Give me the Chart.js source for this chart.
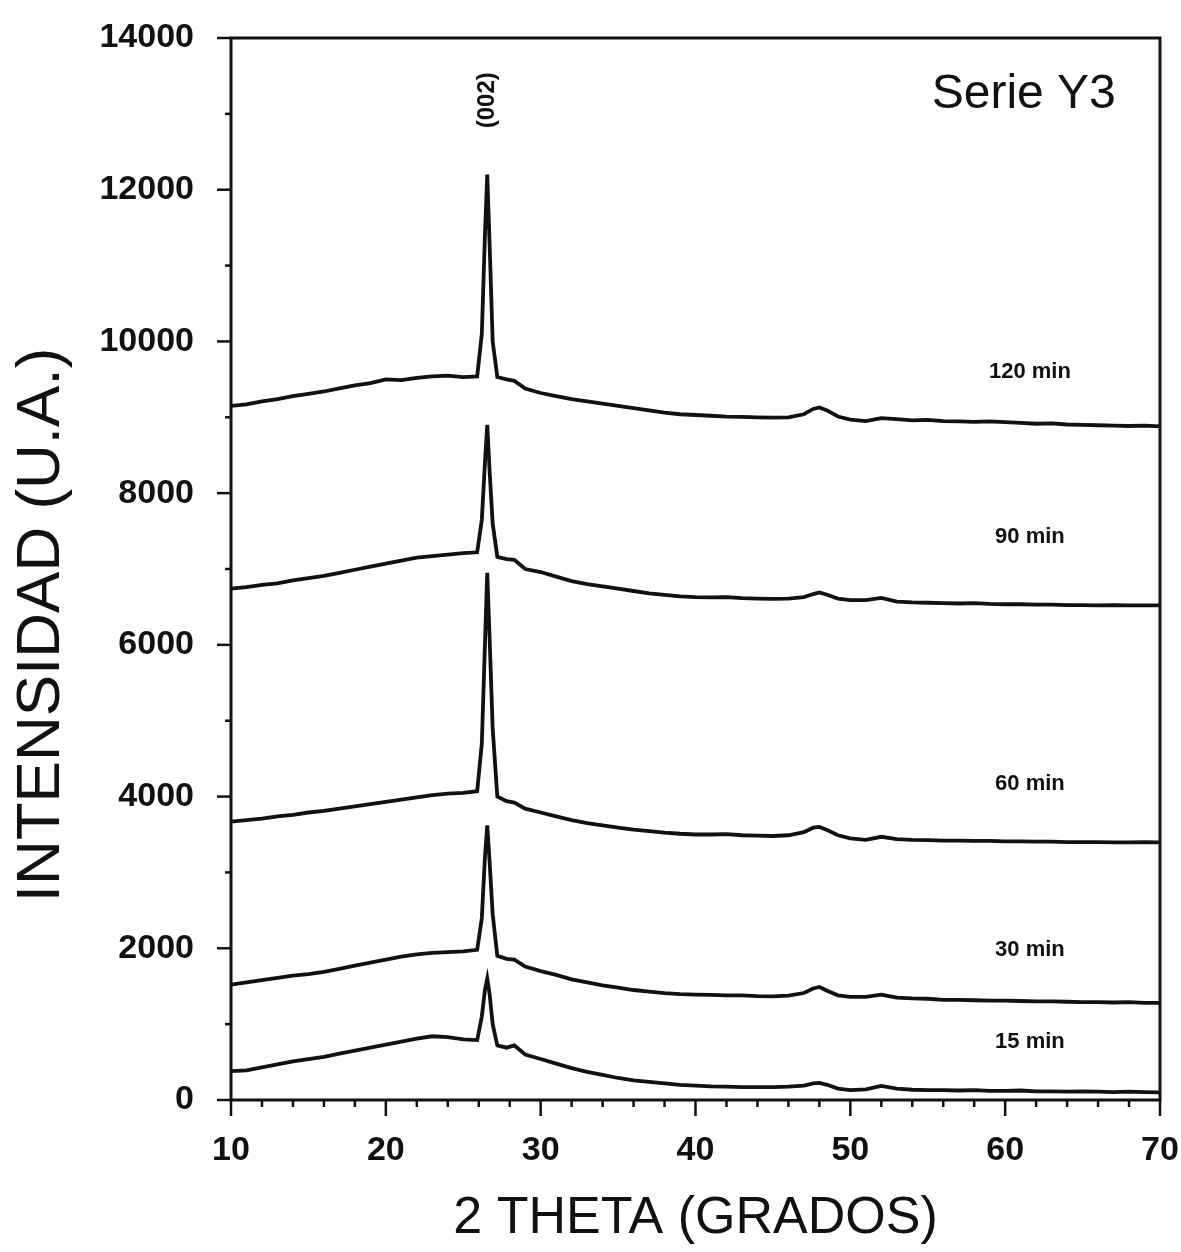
<!DOCTYPE html>
<html>
<head>
<meta charset="utf-8">
<script src="https://cdn.jsdelivr.net/npm/chart.js@4.4.1/dist/chart.umd.min.js"></script>
<style>
  html, body { margin: 0; padding: 0; background: #fff; }
</style>
</head>
<body>
<canvas id="xrdChart" width="1181" height="1252"></canvas>
<script>
'use strict';

// Data (2 theta in degrees, intensity in U.A.)
let twoTheta = [10, 11, 12, 13, 14, 15, 16, 17, 18, 19, 20, 21, 22, 23, 24, 25,
  25.9, 26.2, 26.4, 26.55, 26.7, 26.9, 27.2, 27.8, 28.3, 29,
  30, 31, 32, 33, 34, 35, 36, 37, 38, 39, 40, 41, 42, 43, 44, 45, 46, 47,
  47.6, 48, 48.5, 49.2, 50, 51, 52, 53, 54, 55, 56, 57, 58, 59, 60,
  61, 62, 63, 64, 65, 66, 67, 68, 69, 70];

let int15 = [380, 390, 430, 470, 510, 540, 570, 610, 650, 690, 730, 770, 810, 840, 830, 800,
  790, 1100, 1450, 1600, 1400, 1000, 720, 690, 720, 600,
  540, 480, 420, 370, 330, 290, 260, 240, 220, 200, 190, 180, 175, 170, 170, 170, 175, 190,
  220, 225, 200, 150, 130, 140, 185, 150, 135, 130, 130, 125, 130, 120, 120,
  125, 115, 115, 110, 115, 110, 105, 110, 105, 100];

let int30 = [1520, 1550, 1580, 1610, 1640, 1660, 1690, 1730, 1770, 1810, 1850, 1890, 1920, 1940, 1950, 1960,
  1980, 2400, 3200, 3620, 3150, 2450, 1900, 1860, 1850, 1760,
  1700, 1650, 1590, 1550, 1510, 1480, 1450, 1430, 1410, 1395, 1390, 1385, 1380, 1380, 1370, 1365, 1375, 1410,
  1470, 1490, 1440, 1380, 1360, 1360, 1390, 1350, 1340, 1335, 1320, 1320, 1315, 1310, 1310,
  1305, 1300, 1300, 1295, 1290, 1290, 1285, 1290, 1280, 1280];

let int60 = [3670, 3690, 3710, 3740, 3760, 3790, 3810, 3840, 3870, 3900, 3930, 3960, 3990, 4020, 4040, 4050,
  4070, 4700, 6000, 6950, 6100, 4900, 4000, 3940, 3920, 3840,
  3790, 3740, 3690, 3650, 3620, 3590, 3565, 3545, 3525, 3510, 3500, 3500, 3505, 3490, 3485, 3480, 3490, 3530,
  3590, 3600, 3560, 3490, 3450, 3430, 3470, 3440, 3430, 3425, 3420, 3420, 3415, 3415, 3410,
  3410, 3405, 3405, 3400, 3400, 3400, 3395, 3395, 3400, 3395];

let int90 = [6740, 6760, 6790, 6810, 6850, 6880, 6910, 6950, 6990, 7030, 7070, 7110, 7150, 7170, 7190, 7210,
  7220, 7650, 8400, 8900, 8300, 7600, 7160, 7130, 7120, 7000,
  6960, 6900, 6840, 6800, 6770, 6740, 6710, 6680, 6660, 6640, 6630, 6625, 6630, 6615, 6610, 6605, 6610, 6630,
  6670, 6690, 6660, 6610, 6590, 6590, 6620, 6570, 6560, 6555, 6550, 6545, 6550, 6540, 6535,
  6535, 6530, 6530, 6525, 6525, 6520, 6525, 6520, 6520, 6520];

let int120 = [9150, 9170, 9210, 9240, 9280, 9310, 9340, 9380, 9420, 9450, 9500, 9490, 9520, 9540, 9550, 9530,
  9540, 10100, 11400, 12200, 11300, 10000, 9530, 9500, 9480, 9380,
  9320, 9280, 9240, 9210, 9180, 9150, 9120, 9090, 9060, 9040, 9030, 9020, 9010, 9005, 9000, 8995, 9000, 9040,
  9110, 9130, 9090, 9010, 8970, 8950, 8990, 8975, 8960, 8965, 8950, 8945, 8940, 8945, 8935,
  8925, 8915, 8920, 8905, 8900, 8895, 8890, 8885, 8890, 8880];

let seriesNames = ['15 min', '30 min', '60 min', '90 min', '120 min'];
let seriesValues = [int15, int30, int60, int90, int120];

// Where the curve names sit, in data units
let nameX = 61.6;
let nameY = [760, 1980, 4170, 7420, 9600];

let peakLabel = '(002)';
let peakX = 26.55;
let peakLabelY = 13180;
let panelTitle = 'Serie Y3';

// Helpers
function toPoints(values){
  let points = [];
  for (let i = 0; i < twoTheta.length; i++){
    points.push({ x: twoTheta[i], y: values[i] });
  }
  return points;
}

let ink = '#111';
let fontFamily = '"Liberation Sans", Arial, sans-serif';

let datasets = seriesNames.map((name, i) => ({
  label: name,
  data: toPoints(seriesValues[i]),
  borderColor: ink,
  borderWidth: 3.8,
  pointRadius: 0,
  tension: 0,
  fill: false
}));

// Frame, tick marks and labels
let decorPlugin = {
  id: 'decor',
  afterDraw(chart){
    let ctx = chart.ctx;
    let area = chart.chartArea;
    let xs = chart.scales.x;
    let ys = chart.scales.y;
    ctx.save();
    ctx.strokeStyle = ink;
    ctx.fillStyle = ink;
    ctx.lineWidth = 3;
    ctx.strokeRect(area.left, area.top, area.right - area.left, area.bottom - area.top);

    ctx.lineWidth = 2.5;
    ys.ticks.forEach(t => {
      let py = ys.getPixelForValue(t.value);
      let len = t.value % 2000 === 0 ? 14 : 6;
      ctx.beginPath();
      ctx.moveTo(area.left - len, py);
      ctx.lineTo(area.left, py);
      ctx.stroke();
    });
    xs.ticks.forEach(t => {
      let px = xs.getPixelForValue(t.value);
      let len = t.value % 10 === 0 ? 16 : 7;
      ctx.beginPath();
      ctx.moveTo(px, area.bottom);
      ctx.lineTo(px, area.bottom + len);
      ctx.stroke();
    });

    // curve names
    ctx.font = 'bold 22px ' + fontFamily;
    ctx.textAlign = 'center';
    ctx.textBaseline = 'middle';
    seriesNames.forEach((name, i) => {
      ctx.fillText(name, xs.getPixelForValue(nameX), ys.getPixelForValue(nameY[i]));
    });

    // peak index
    ctx.save();
    ctx.translate(xs.getPixelForValue(peakX), ys.getPixelForValue(peakLabelY));
    ctx.rotate(-Math.PI / 2);
    ctx.font = 'bold 24px ' + fontFamily;
    ctx.fillText(peakLabel, 0, 0);
    ctx.restore();

    // panel title
    ctx.font = '48px ' + fontFamily;
    ctx.fillText(panelTitle, xs.getPixelForValue(61.2), ys.getPixelForValue(13250));

    // y axis title
    ctx.save();
    ctx.translate(42, 625);
    ctx.rotate(-Math.PI / 2);
    ctx.font = '62px ' + fontFamily;
    ctx.fillText('INTENSIDAD (U.A.)', 0, 0);
    ctx.restore();

    ctx.restore();
  }
};

let chartContext = document.getElementById('xrdChart');

new Chart(chartContext, { // eslint-disable-line
  type: 'line',
  data: { datasets: datasets },
  options: {
    responsive: false,
    animation: false,
    layout: { padding: { left: 0, right: 21, top: 38, bottom: 0 } },
    plugins: {
      legend: { display: false },
      tooltip: { enabled: false }
    },
    scales: {
      x: {
        type: 'linear',
        min: 10,
        max: 70,
        grid: { display: false, drawTicks: false },
        border: { display: false },
        ticks: {
          stepSize: 2,
          autoSkip: false,
          maxRotation: 0,
          padding: 30,
          color: ink,
          font: { family: fontFamily, size: 34, weight: 'bold' },
          callback: v => (v % 10 === 0 ? v : '')
        },
        title: {
          display: true,
          text: '2 THETA (GRADOS)',
          color: ink,
          font: { family: fontFamily, size: 52 },
          padding: { top: 0, bottom: 2 }
        },
        afterFit(scale){
          scale.height = 152;
          scale.paddingLeft = 0;
          scale.paddingRight = 0;
        }
      },
      y: {
        min: 0,
        max: 14000,
        grid: { display: false, drawTicks: false },
        border: { display: false },
        ticks: {
          stepSize: 1000,
          autoSkip: false,
          padding: 37,
          color: ink,
          font: { family: fontFamily, size: 34, weight: 'bold' },
          callback: v => (v % 2000 === 0 ? v : '')
        },
        afterFit(scale){
          scale.width = 231;
          scale.paddingTop = 0;
          scale.paddingBottom = 0;
        }
      }
    }
  },
  plugins: [decorPlugin]
});
</script>
</body>
</html>
